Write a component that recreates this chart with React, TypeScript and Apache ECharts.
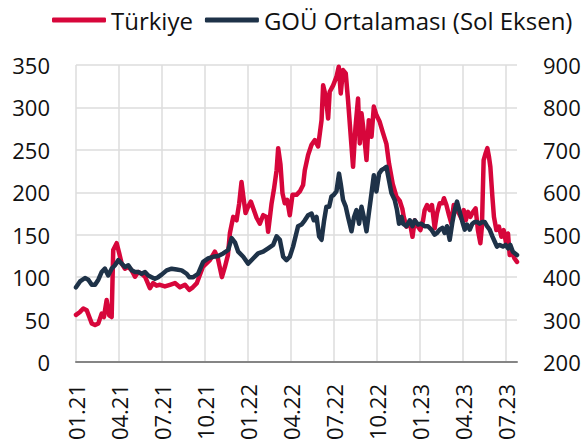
import React, { useEffect, useRef } from "react";
import * as echarts from "echarts";

// x positions are month indices counted from January 2021 (0 = 01.21, 3 = 04.21, ...)
const xTickValues = [0, 3, 6, 9, 12, 15, 18, 21, 24, 27, 30];
const xTickLabels = ["01.21", "04.21", "07.21", "10.21", "01.22", "04.22", "07.22", "10.22", "01.23", "04.23", "07.23"];

// Türkiye (right axis)
const turkiyeX = [
  0.0, 0.28, 0.51, 0.75, 0.93, 1.1, 1.33, 1.56, 1.79, 1.95, 2.14, 2.32, 2.49, 2.6, 2.84, 3.02, 3.19, 3.42, 3.65, 3.89,
  4.12, 4.35, 4.58, 4.82, 5.16, 5.39, 5.63, 5.86, 6.21, 6.56, 6.91, 7.26, 7.61, 7.91, 8.16, 8.44, 8.86, 9.35, 9.7, 9.91,
  10.19, 10.4, 10.61, 10.75, 10.98, 11.21, 11.4, 11.56, 11.68, 11.84, 12.02, 12.21, 12.42, 12.61, 12.84, 13.07, 13.31, 13.42, 13.66, 13.82,
  14.01, 14.12, 14.28, 14.42, 14.58, 14.75, 14.93, 15.12, 15.4, 15.63, 15.86, 15.98, 16.21, 16.45, 16.68, 16.91, 17.15, 17.26, 17.45, 17.61,
  17.72, 17.96, 18.19, 18.35, 18.49, 18.65, 18.84, 19.0, 19.19, 19.35, 19.52, 19.7, 19.82, 19.94, 20.1, 20.29, 20.45, 20.64, 20.8, 20.98,
  21.21, 21.44, 21.68, 21.86, 22.12, 22.38, 22.61, 22.8, 22.89, 23.08, 23.31, 23.5, 23.66, 23.89, 24.05, 24.24, 24.35, 24.52, 24.7, 24.86,
  25.05, 25.21, 25.4, 25.59, 25.7, 25.87, 26.05, 26.22, 26.38, 26.57, 26.75, 26.92, 27.08, 27.22, 27.38, 27.54, 27.73, 27.91, 28.07, 28.24,
  28.35, 28.47, 28.61, 28.73, 28.84, 28.94, 29.08, 29.19, 29.36, 29.54, 29.71, 29.87, 30.06, 30.17, 30.29, 30.47, 30.63, 30.8,
];
const turkiyeY = [
  311, 318, 326, 322, 306, 291, 287, 291, 314, 306, 346, 310, 306, 464, 480, 456, 432, 420, 424, 416,
  401, 412, 408, 401, 374, 386, 380, 382, 378, 382, 386, 376, 382, 370, 376, 386, 424, 440, 460, 444,
  400, 424, 452, 504, 542, 534, 574, 624, 592, 551, 566, 578, 558, 540, 526, 546, 542, 507, 574, 606,
  652, 704, 666, 598, 574, 582, 546, 594, 594, 602, 617, 652, 688, 712, 723, 708, 770, 852, 825, 774,
  837, 852, 872, 896, 833, 888, 880, 817, 731, 660, 754, 821, 715, 786, 742, 676, 770, 731, 802, 782,
  766, 740, 714, 668, 620, 590, 580, 560, 542, 519, 530, 495, 534, 519, 511, 534, 558, 570, 558, 570,
  515, 550, 574, 574, 586, 570, 546, 526, 570, 558, 550, 538, 558, 534, 554, 542, 554, 562, 511, 480,
  519, 676, 692, 704, 684, 660, 590, 542, 511, 519, 495, 511, 476, 503, 452, 456, 444, 436,
];

// GOÜ Ortalaması (left axis)
const gouX = [
  0.0, 0.28, 0.63, 0.86, 1.1, 1.33, 1.56, 1.79, 2.02, 2.25, 2.49, 2.72, 2.95, 3.19, 3.42, 3.65, 3.89, 4.12, 4.35, 4.58,
  4.82, 5.05, 5.28, 5.51, 5.74, 5.98, 6.33, 6.68, 7.03, 7.38, 7.73, 7.91, 8.19, 8.53, 8.88, 9.23, 9.58, 9.93, 10.28, 10.63,
  10.87, 11.1, 11.33, 11.68, 12.02, 12.37, 12.72, 13.07, 13.42, 13.77, 14.01, 14.24, 14.47, 14.7, 14.93, 15.16, 15.51, 15.75, 15.98, 16.21,
  16.45, 16.61, 16.8, 16.98, 17.15, 17.33, 17.49, 17.68, 17.84, 18.0, 18.19, 18.37, 18.49, 18.65, 18.84, 19.0, 19.24, 19.42, 19.59, 19.77,
  19.94, 20.1, 20.29, 20.45, 20.64, 20.8, 20.98, 21.17, 21.33, 21.51, 21.68, 21.86, 22.03, 22.26, 22.42, 22.56, 22.73, 22.84, 23.08, 23.31,
  23.5, 23.66, 23.89, 24.12, 24.35, 24.58, 24.82, 25.05, 25.21, 25.4, 25.59, 25.75, 25.91, 26.1, 26.29, 26.45, 26.61, 26.8, 26.99, 27.15,
  27.31, 27.5, 27.68, 27.84, 28.01, 28.19, 28.38, 28.54, 28.71, 28.89, 29.08, 29.24, 29.4, 29.59, 29.82, 30.01, 30.17, 30.33, 30.51, 30.8,
];
const gouY = [
  88, 95, 99, 97, 91, 91, 97, 106, 110, 102, 110, 114, 120, 116, 112, 114, 108, 106, 106, 104,
  106, 102, 100, 98, 100, 103, 108, 110, 109, 108, 104, 100, 100, 104, 118, 122, 124, 125, 128, 132,
  146, 141, 130, 124, 116, 122, 128, 130, 134, 138, 148, 144, 124, 120, 124, 136, 160, 162, 167, 173,
  175, 167, 171, 148, 144, 167, 183, 183, 195, 197, 201, 222, 210, 191, 183, 171, 154, 171, 179, 163,
  183, 171, 154, 175, 199, 220, 201, 222, 226, 228, 230, 214, 199, 191, 179, 163, 171, 163, 160, 167,
  160, 167, 162, 163, 160, 160, 156, 150, 152, 156, 158, 152, 160, 144, 165, 179, 189, 177, 165, 156,
  162, 156, 163, 165, 165, 163, 165, 165, 160, 156, 148, 142, 136, 138, 136, 138, 134, 138, 130, 126,
];

const RED = "#d7063b";
const NAVY = "#1e3248";
const FONT = "Open Sans";

const zip = (xs: number[], ys: number[]) => xs.map((x, i) => [x, ys[i]]);

export default function App() {
  const ref = useRef<HTMLDivElement>(null);
  useEffect(() => {
    if (!ref.current) return;
    const chart = echarts.init(ref.current, null, { renderer: "svg" });
    chart.setOption({
      animation: false,
      backgroundColor: "#ffffff",
      textStyle: { fontFamily: FONT },
      legend: {
        left: 47,
        top: 3,
        itemWidth: 54,
        itemHeight: 5,
        itemGap: 12,
        icon: "roundRect",
        textStyle: { fontFamily: FONT, fontSize: 24, color: "#111111" },
        data: ["Türkiye", "GOÜ Ortalaması (Sol Eksen)"],
      },
      grid: { left: 76, right: 68, top: 65, bottom: 84, containLabel: false },
      xAxis: {
        type: "value",
        min: 0,
        max: 30.8,
        interval: 3,
        axisLine: { show: true, onZero: false, lineStyle: { color: "#858585", width: 2 } },
        axisTick: { show: false, customValues: xTickValues },
        axisLabel: {
          customValues: xTickValues,
          rotate: 90,
          margin: 22,
          fontFamily: FONT,
          fontSize: 22,
          color: "#111111",
          formatter: (v: number) => {
            const i = Math.round(v / 3);
            return Math.abs(v - i * 3) < 1e-6 ? xTickLabels[i] ?? "" : "";
          },
        },
        splitLine: { show: true, lineStyle: { color: "#dcdcdc", width: 1.5 } },
      },
      yAxis: [
        {
          type: "value",
          min: 0,
          max: 350,
          interval: 50,
          position: "left",
          axisLine: { show: false },
          axisTick: { show: false },
          axisLabel: { margin: 26, fontFamily: FONT, fontSize: 22, color: "#111111" },
          splitLine: { show: true, lineStyle: { color: "#dcdcdc", width: 1.5 } },
        },
        {
          type: "value",
          min: 200,
          max: 900,
          interval: 100,
          position: "right",
          axisLine: { show: false },
          axisTick: { show: false },
          axisLabel: { margin: 26, fontFamily: FONT, fontSize: 22, color: "#111111" },
          splitLine: { show: false },
        },
      ],
      series: [
        {
          name: "Türkiye",
          type: "line",
          yAxisIndex: 1,
          data: zip(turkiyeX, turkiyeY),
          symbol: "none",
          showSymbol: false,
          color: RED,
          lineStyle: { color: RED, width: 4.5, join: "round", cap: "round" },
        },
        {
          name: "GOÜ Ortalaması (Sol Eksen)",
          type: "line",
          yAxisIndex: 0,
          data: zip(gouX, gouY),
          symbol: "none",
          showSymbol: false,
          color: NAVY,
          lineStyle: { color: NAVY, width: 4.5, join: "round", cap: "round" },
        },
      ],
    });
    return () => chart.dispose();
  }, []);
  return (
    <div
      ref={ref}
      style={{ position: "fixed", left: 0, top: 0, width: 585, height: 446, background: "#fff" }}
    />
  );
}
